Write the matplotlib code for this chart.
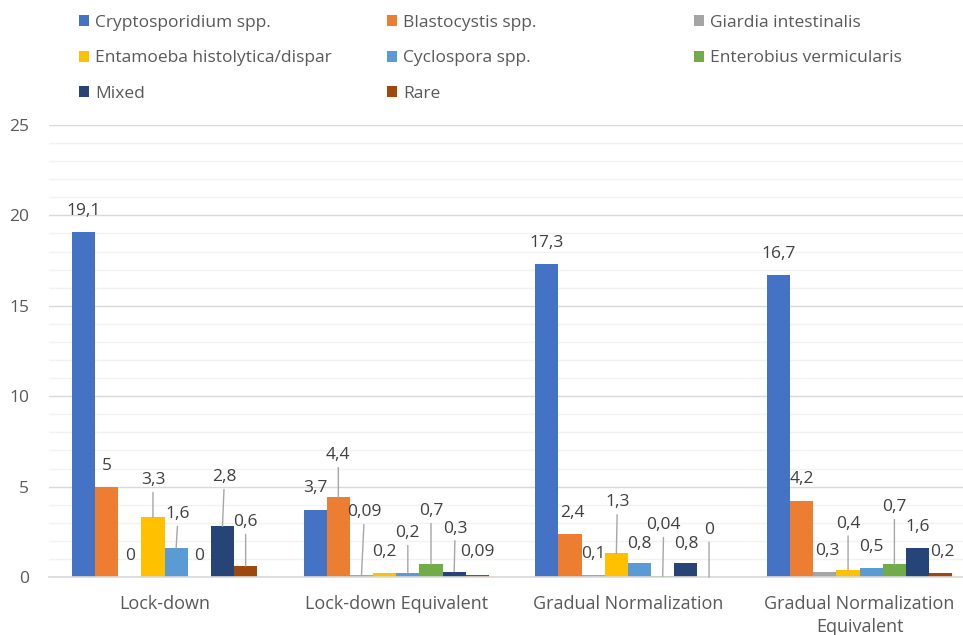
import matplotlib
matplotlib.use("Agg")
import matplotlib.pyplot as plt
import numpy as np

categories = ["Lock-down", "Lock-down Equivalent", "Gradual Normalization",
              "Gradual Normalization\nEquivalent"]
series_names = ["Cryptosporidium spp.", "Blastocystis spp.", "Giardia intestinalis",
                "Entamoeba histolytica/dispar", "Cyclospora spp.", "Enterobius vermicularis",
                "Mixed", "Rare"]
cryptosporidium = [19.1, 3.7, 17.3, 16.7]
blastocystis = [5, 4.4, 2.4, 4.2]
giardia = [0, 0.09, 0.1, 0.3]
entamoeba = [3.3, 0.2, 1.3, 0.4]
cyclospora = [1.6, 0.2, 0.8, 0.5]
enterobius = [0, 0.7, 0.04, 0.7]
mixed = [2.8, 0.3, 0.8, 1.6]
rare = [0.6, 0.09, 0, 0.2]
series_values = [cryptosporidium, blastocystis, giardia, entamoeba, cyclospora,
                 enterobius, mixed, rare]
yticks = [0, 5, 10, 15, 20, 25]

colors = ["#4472C4", "#ED7D31", "#A5A5A5", "#FFC000", "#5B9BD5", "#70AD47",
          "#264478", "#9E480E"]

# label offsets in pixels (dx, dy) per series, per category (layout only)
label_offsets = [
    [(0, 21), (0, 22), (0, 21), (0, 21)],
    [(0, 21), (0, 42), (2, 21), (0, 22)],
    [(0, 21), (3, 63), (0, 21), (2, 21)],
    [(0, 37), (0, 21), (1, 51), (0, 46)],
    [(2, 34), (0, 40), (0, 19), (0, 21)],
    [(0, 21), (0, 53), (1, 51), (0, 57)],
    [(2, 49), (1, 43), (0, 19), (0, 21)],
    [(0, 44), (0, 23), (0, 47), (2, 21)],
]

FONT = "Open Sans"
plt.rcParams["font.family"] = [FONT, "DejaVu Sans"]

W, H = 963, 635
fig = plt.figure(figsize=(W / 100, H / 100), dpi=100)
left_px, right_px = 48.7, 975.5
bottom_px, top_px = 577, 125
ax = fig.add_axes([left_px / W, (H - bottom_px) / H, (right_px - left_px) / W,
                   (bottom_px - top_px) / H])

n = len(series_names)
bw = 0.1
x = np.arange(len(categories)) + 0.5
bars = []
for j, (name, vals) in enumerate(zip(series_names, series_values)):
    xs = x + (j - (n - 1) / 2) * bw
    b = ax.bar(xs, vals, width=bw, color=colors[j], label=name, zorder=3)
    bars.append(b)
    for i, v in enumerate(vals):
        dx, dy = label_offsets[j][i]
        txt = f"{v:g}".replace(".", ",")
        arrow = None
        if dy > 30:
            arrow = dict(arrowstyle="-", color="#A6A6A6", lw=1.0, shrinkA=1, shrinkB=0)
        ax.annotate(txt, xy=(xs[i], v), xytext=(dx, dy), textcoords="offset pixels",
                    ha="center", va="center", fontsize=12.5, color="#404040",
                    arrowprops=arrow, zorder=4)

ax.set_xlim(0, 4)
ax.set_ylim(0, 25)
ax.set_yticks(yticks)
ax.set_yticks(np.arange(0, 26, 1), minor=True)
ax.set_xticks(x)
ax.set_xticklabels(categories, fontsize=13, color="#595959", linespacing=1.35)
ax.tick_params(axis="x", length=0, pad=13)
ax.tick_params(axis="y", which="both", length=0, pad=14, labelsize=12.5,
               labelcolor="#595959")
ax.grid(axis="y", which="major", color="#D9D9D9", lw=1.0, zorder=0)
ax.grid(axis="y", which="minor", color="#F2F2F2", lw=1.0, zorder=0)
ax.grid(axis="x", visible=False)
for s in ["top", "right", "left"]:
    ax.spines[s].set_visible(False)
ax.spines["bottom"].set_color("#D9D9D9")
ax.spines["bottom"].set_linewidth(1.2)
ax.spines["bottom"].set_zorder(3.5)

# legend: three columns, row-major order as in reference
col_x = [79, 387, 694]
for c in range(3):
    idx = [k for k in range(n) if k % 3 == c]
    fig.legend([bars[k] for k in idx], [series_names[k] for k in idx],
               loc="upper left", bbox_to_anchor=(col_x[c] / W, (H - 15) / H),
               frameon=False, fontsize=12.5, labelcolor="#595959",
               handlelength=0.6, handleheight=0.6, handletextpad=0.35,
               labelspacing=1.12, borderpad=0, borderaxespad=0)

fig.savefig("out.png", dpi=100)
